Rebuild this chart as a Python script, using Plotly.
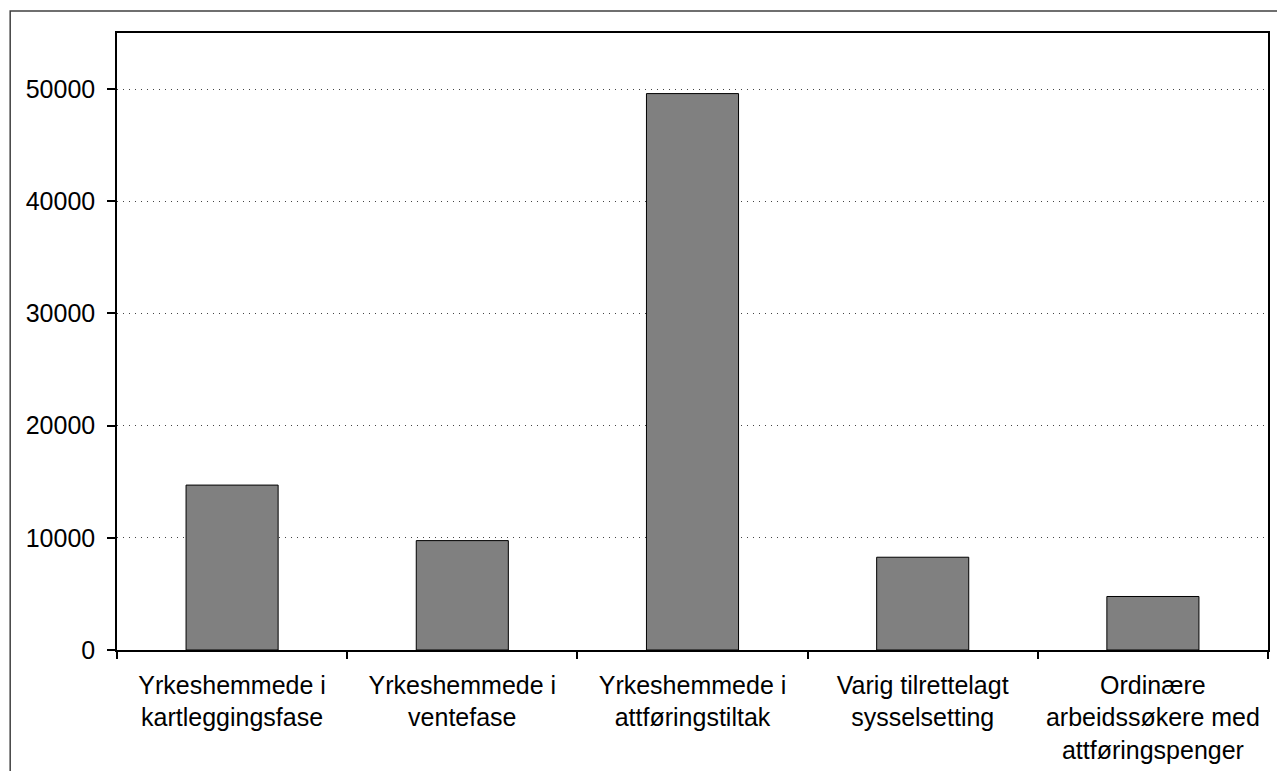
import plotly.graph_objects as go

categories = [
    "Yrkeshemmede i<br>kartleggingsfase",
    "Yrkeshemmede i<br>ventefase",
    "Yrkeshemmede i<br>attføringstiltak",
    "Varig tilrettelagt<br>sysselsetting",
    "Ordinære<br>arbeidssøkere med<br>attføringspenger",
]
values = [14700, 9750, 49600, 8270, 4770]
y_ticks = [0, 10000, 20000, 30000, 40000, 50000]

W, H = 1277, 771
L, R, T, B = 117, 7, 33, 119
pw, ph = W - L - R, H - T - B

fig = go.Figure(
    go.Bar(
        x=categories,
        y=values,
        width=0.4,
        marker=dict(color="#808080", line=dict(color="#000000", width=1)),
    )
)

font = dict(family="Liberation Sans, Arial, sans-serif", size=25, color="#000000")

fig.update_layout(
    width=W,
    height=H,
    margin=dict(l=L, r=R, t=T, b=B),
    paper_bgcolor="#ffffff",
    plot_bgcolor="#ffffff",
    showlegend=False,
    font=font,
    xaxis=dict(
        type="category",
        showline=True,
        linecolor="#000000",
        linewidth=1.5,
        mirror=True,
        ticks="outside",
        tickson="boundaries",
        ticklen=7,
        tickcolor="#000000",
        tickwidth=1.5,
        showgrid=False,
        tickfont=font,
        ticklabelstandoff=12,
    ),
    yaxis=dict(
        range=[0, 55000],
        tickvals=y_ticks,
        ticktext=[str(v) for v in y_ticks],
        showline=True,
        linecolor="#000000",
        linewidth=1.5,
        mirror=True,
        ticks="outside",
        ticklen=8,
        tickcolor="#000000",
        tickwidth=1.5,
        showgrid=True,
        gridcolor="#444444",
        gridwidth=1,
        griddash="1px,5px",
        zeroline=False,
        tickfont=font,
        ticklabelstandoff=7,
    ),
    shapes=[
        dict(
            type="rect",
            xref="paper",
            yref="paper",
            x0=(10 - L) / pw,
            x1=(W + 20 - L) / pw,
            y0=-(B + 20) / ph,
            y1=(H - B - 11) / ph,
            line=dict(color="#404040", width=1.5),
            fillcolor="rgba(0,0,0,0)",
            layer="below",
        )
    ],
)

fig.write_html(
    "out.html",
    config={"displayModeBar": False},
    post_script="document.body.style.margin='0';document.body.style.overflow='hidden';",
)
